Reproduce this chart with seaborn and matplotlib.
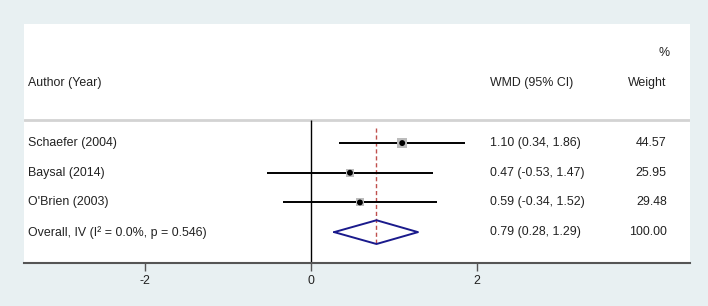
import matplotlib
matplotlib.use("Agg")
import matplotlib.pyplot as plt
import seaborn as sns
import pandas as pd

# study data
authors = ["Schaefer (2004)", "Baysal (2014)", "O'Brien (2003)"]
wmd = [1.10, 0.47, 0.59]
ci_low = [0.34, -0.53, -0.34]
ci_high = [1.86, 1.47, 1.52]
weights = [44.57, 25.95, 29.48]

overall_label = "Overall, IV (I² = 0.0%, p = 0.546)"
overall_wmd = 0.79
overall_low = 0.28
overall_high = 1.29
overall_weight = 100.00

xticks = [-2, 0, 2]

sns.set_style("white")
plt.rcParams['font.family'] = ['Liberation Sans', 'DejaVu Sans']
plt.rcParams['axes.unicode_minus'] = False

df = pd.DataFrame({'author': authors, 'wmd': wmd, 'lo': ci_low, 'hi': ci_high, 'w': weights})
df['row'] = range(len(df))
n = len(df)

fig = plt.figure(figsize=(7.08, 3.06), dpi=100)
fig.patch.set_facecolor('#e8f0f2')
ax = fig.add_axes([24 / 708, 1 - 263 / 306, 666 / 708, 239 / 306])
ax.set_facecolor('white')

ax.set_xlim(-3.46, 4.57)
ax.set_ylim(4.04, -4.01)

fs = 8.9
tc = '#222222'
# header
ax.text(-3.41, -2.02, "Author (Year)", fontsize=fs, va='center', ha='left', color=tc)
ax.text(2.157, -2.02, "WMD (95% CI)", fontsize=fs, va='center', ha='left', color=tc)
ax.text(4.29, -2.02, "Weight", fontsize=fs, va='center', ha='right', color=tc)
ax.text(4.33, -3.03, "%", fontsize=fs, va='center', ha='right', color=tc)
ax.axhline(-0.78, color='#d3d3d3', lw=2)

# reference lines
ax.vlines(0, -0.78, 4.04, color='black', lw=1)
ax.vlines(overall_wmd, -0.5, 3.44, color='#c0504d', lw=1, linestyles=(0, (3, 2)))

# confidence intervals and weight boxes
ax.hlines(df['row'], df['lo'], df['hi'], color='black', lw=1.4)
sns.scatterplot(data=df, x='wmd', y='row', size='w', sizes=(30, 50), marker='s',
                color='#bcbcbc', edgecolor='none', legend=False, ax=ax, zorder=3)
sns.scatterplot(data=df, x='wmd', y='row', marker='o', s=18, color='black',
                edgecolor='none', legend=False, ax=ax, zorder=4)

# pooled diamond
dx = [overall_low, overall_wmd, overall_high, overall_wmd, overall_low]
dy = [n, n - 0.4, n, n + 0.4, n]
ax.plot(dx, dy, color='#1a1a8c', lw=1.4)

# row labels
for i, r in df.iterrows():
    ax.text(-3.41, r['row'], r['author'], fontsize=fs, va='center', ha='left', color=tc)
    ax.text(2.157, r['row'], f"{r['wmd']:.2f} ({r['lo']:.2f}, {r['hi']:.2f})", fontsize=fs, va='center', color=tc)
    ax.text(4.29, r['row'], f"{r['w']:.2f}", fontsize=fs, va='center', ha='right', color=tc)
ax.text(-3.41, n, overall_label, fontsize=fs, va='center', ha='left', color=tc)
ax.text(2.157, n, f"{overall_wmd:.2f} ({overall_low:.2f}, {overall_high:.2f})", fontsize=fs, va='center', color=tc)
ax.text(4.29, n, f"{overall_weight:.2f}", fontsize=fs, va='center', ha='right', color=tc)

for s in ['top', 'left', 'right']:
    ax.spines[s].set_visible(False)
ax.spines['bottom'].set_color('#555555')
ax.spines['bottom'].set_linewidth(1.5)
ax.set_xticks(xticks)
ax.set_yticks([])
ax.set_xlabel('')
ax.set_ylabel('')
ax.tick_params(axis='x', bottom=True, length=6, width=1, color='#555555',
               labelsize=fs, labelcolor=tc, pad=3)

fig.savefig('out.png', dpi=100, facecolor=fig.get_facecolor())
